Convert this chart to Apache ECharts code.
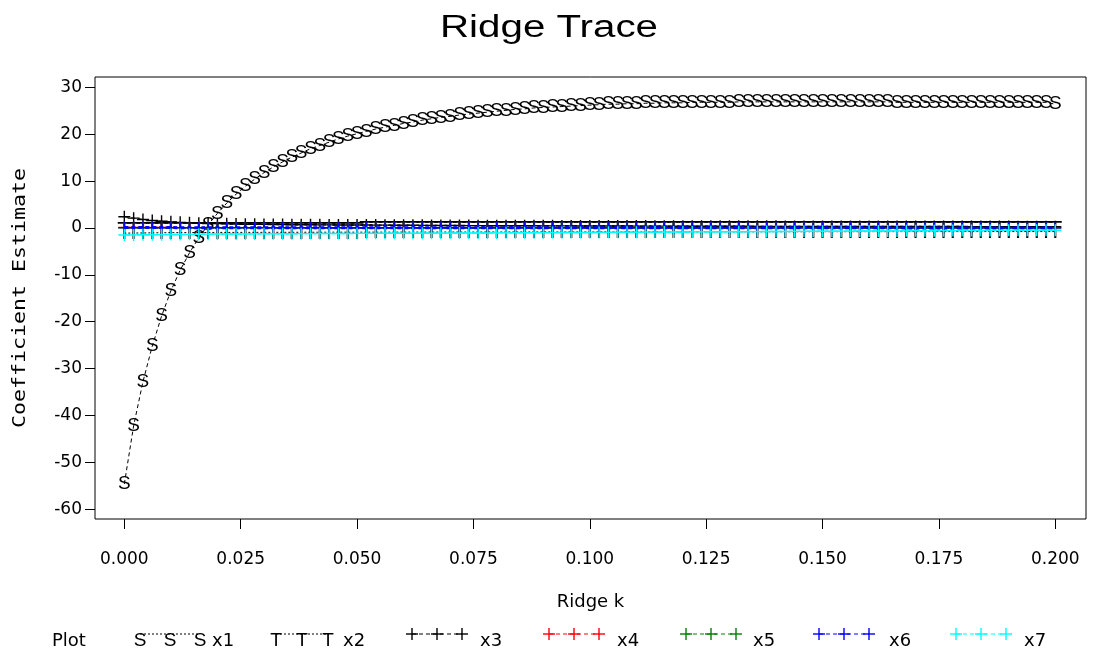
<!DOCTYPE html>
<html><head><meta charset="utf-8">
<script src="https://cdn.jsdelivr.net/npm/echarts@6/dist/echarts.min.js"></script>
<style>html,body{margin:0;padding:0;background:#fff}#c{width:1093px;height:657px}</style>
</head><body><div id="c"></div>
<script>
const ridgeK = [
0.000,0.002,0.004,0.006,0.008,0.010,0.012,0.014,0.016,0.018,
0.020,0.022,0.024,0.026,0.028,0.030,0.032,0.034,0.036,0.038,
0.040,0.042,0.044,0.046,0.048,0.050,0.052,0.054,0.056,0.058,
0.060,0.062,0.064,0.066,0.068,0.070,0.072,0.074,0.076,0.078,
0.080,0.082,0.084,0.086,0.088,0.090,0.092,0.094,0.096,0.098,
0.100,0.102,0.104,0.106,0.108,0.110,0.112,0.114,0.116,0.118,
0.120,0.122,0.124,0.126,0.128,0.130,0.132,0.134,0.136,0.138,
0.140,0.142,0.144,0.146,0.148,0.150,0.152,0.154,0.156,0.158,
0.160,0.162,0.164,0.166,0.168,0.170,0.172,0.174,0.176,0.178,
0.180,0.182,0.184,0.186,0.188,0.190,0.192,0.194,0.196,0.198,
0.200];

const x1 = [
-54.6,-42.2,-32.8,-25.2,-18.8,-13.4,-9.0,-5.3,-2.1,0.7,
3.1,5.3,7.2,8.9,10.4,11.8,13.0,14.1,15.1,16.0,
16.9,17.6,18.3,19.0,19.6,20.1,20.6,21.1,21.5,21.9,
22.3,22.6,23.0,23.3,23.6,23.8,24.1,24.3,24.5,24.7,
24.9,25.1,25.3,25.4,25.6,25.7,25.8,25.9,26.0,26.1,
26.2,26.3,26.4,26.4,26.5,26.5,26.6,26.6,26.7,26.7,
26.7,26.8,26.8,26.8,26.8,26.8,26.9,26.9,26.9,26.9,
26.9,26.9,26.9,26.9,26.9,26.9,26.9,26.9,26.9,26.9,
26.9,26.9,26.9,26.8,26.8,26.8,26.8,26.8,26.8,26.8,
26.8,26.8,26.8,26.8,26.8,26.8,26.8,26.8,26.8,26.8,
26.4];

const x2 = [
-1.10,-1.08,-1.06,-1.04,-1.02,-1.00,-0.99,-0.98,-0.97,-0.96,
-0.95,-0.95,-0.94,-0.94,-0.93,-0.93,-0.92,-0.92,-0.92,-0.91,
-0.91,-0.91,-0.90,-0.90,-0.90,-0.90,-0.89,-0.89,-0.89,-0.89,
-0.88,-0.88,-0.88,-0.88,-0.87,-0.87,-0.87,-0.87,-0.87,-0.86,
-0.86,-0.86,-0.86,-0.86,-0.85,-0.85,-0.85,-0.85,-0.85,-0.84,
-0.84,-0.84,-0.84,-0.84,-0.83,-0.83,-0.83,-0.83,-0.83,-0.82,
-0.82,-0.82,-0.82,-0.82,-0.81,-0.81,-0.81,-0.81,-0.81,-0.80,
-0.80,-0.80,-0.80,-0.80,-0.79,-0.79,-0.79,-0.79,-0.79,-0.78,
-0.78,-0.78,-0.78,-0.78,-0.77,-0.77,-0.77,-0.77,-0.77,-0.76,
-0.76,-0.76,-0.76,-0.76,-0.75,-0.75,-0.75,-0.75,-0.75,-0.74,
-0.74];

const x3 = [
2.40,2.10,1.82,1.60,1.44,1.31,1.20,1.11,1.03,0.97,
0.92,0.88,0.84,0.81,0.78,0.76,0.74,0.72,0.70,0.69,
0.68,0.67,0.66,0.65,0.64,0.63,0.62,0.61,0.60,0.59,
0.58,0.57,0.56,0.55,0.54,0.53,0.52,0.51,0.50,0.49,
0.48,0.47,0.47,0.46,0.46,0.45,0.45,0.44,0.44,0.43,
0.43,0.42,0.42,0.41,0.41,0.40,0.40,0.39,0.39,0.38,
0.38,0.38,0.37,0.37,0.37,0.36,0.36,0.36,0.35,0.35,
0.35,0.34,0.34,0.34,0.33,0.33,0.33,0.33,0.32,0.32,
0.32,0.32,0.31,0.31,0.31,0.31,0.30,0.30,0.30,0.30,
0.30,0.29,0.29,0.29,0.29,0.29,0.28,0.28,0.28,0.28,
0.28];

const x4 = [
0.10,0.10,0.09,0.09,0.09,0.09,0.08,0.08,0.08,0.08,
0.08,0.08,0.07,0.07,0.07,0.07,0.07,0.07,0.07,0.07,
0.07,0.07,0.06,0.06,0.06,0.06,0.06,0.06,0.06,0.06,
0.06,0.06,0.06,0.06,0.05,0.05,0.05,0.05,0.05,0.05,
0.05,0.05,0.05,0.05,0.05,0.05,0.05,0.05,0.04,0.04,
0.04,0.04,0.04,0.04,0.04,0.04,0.04,0.04,0.04,0.04,
0.04,0.04,0.04,0.03,0.03,0.03,0.03,0.03,0.03,0.03,
0.03,0.03,0.03,0.03,0.03,0.03,0.03,0.03,0.03,0.03,
0.03,0.03,0.03,0.03,0.02,0.02,0.02,0.02,0.02,0.02,
0.02,0.02,0.02,0.02,0.02,0.02,0.02,0.02,0.02,0.02,
0.02];

const x5 = [
0.04,0.04,0.04,0.04,0.04,0.04,0.04,0.04,0.04,0.04,
0.04,0.04,0.04,0.04,0.04,0.04,0.04,0.04,0.04,0.04,
0.04,0.04,0.04,0.04,0.04,0.04,0.04,0.04,0.04,0.04,
0.03,0.03,0.03,0.03,0.03,0.03,0.03,0.03,0.03,0.03,
0.03,0.03,0.03,0.03,0.03,0.03,0.03,0.03,0.03,0.03,
0.03,0.03,0.03,0.03,0.03,0.03,0.03,0.03,0.03,0.03,
0.02,0.02,0.02,0.02,0.02,0.02,0.02,0.02,0.02,0.02,
0.02,0.02,0.02,0.02,0.02,0.02,0.02,0.02,0.02,0.02,
0.02,0.02,0.02,0.02,0.02,0.02,0.02,0.02,0.02,0.02,
0.02,0.02,0.02,0.02,0.02,0.02,0.02,0.02,0.02,0.02,
0.02];

const x6 = [
0.08,0.08,0.08,0.08,0.08,0.08,0.07,0.07,0.07,0.07,
0.07,0.07,0.07,0.07,0.07,0.07,0.06,0.06,0.06,0.06,
0.06,0.06,0.06,0.06,0.06,0.06,0.06,0.06,0.05,0.05,
0.05,0.05,0.05,0.05,0.05,0.05,0.05,0.05,0.05,0.05,
0.05,0.05,0.05,0.04,0.04,0.04,0.04,0.04,0.04,0.04,
0.04,0.04,0.04,0.04,0.04,0.04,0.04,0.04,0.04,0.04,
0.04,0.04,0.03,0.03,0.03,0.03,0.03,0.03,0.03,0.03,
0.03,0.03,0.03,0.03,0.03,0.03,0.03,0.03,0.03,0.03,
0.03,0.03,0.03,0.03,0.02,0.02,0.02,0.02,0.02,0.02,
0.02,0.02,0.02,0.02,0.02,0.02,0.02,0.02,0.02,0.02,
0.02];

const x7 = [
-1.50,-1.48,-1.46,-1.44,-1.42,-1.40,-1.38,-1.36,-1.34,-1.32,
-1.30,-1.29,-1.28,-1.27,-1.26,-1.25,-1.24,-1.23,-1.22,-1.21,
-1.20,-1.19,-1.18,-1.18,-1.17,-1.16,-1.15,-1.15,-1.14,-1.13,
-1.12,-1.12,-1.11,-1.10,-1.10,-1.09,-1.08,-1.08,-1.07,-1.06,
-1.05,-1.04,-1.03,-1.02,-1.01,-1.00,-0.99,-0.98,-0.97,-0.96,
-0.95,-0.94,-0.93,-0.92,-0.91,-0.90,-0.89,-0.88,-0.87,-0.86,
-0.85,-0.84,-0.83,-0.82,-0.81,-0.80,-0.79,-0.78,-0.77,-0.76,
-0.75,-0.74,-0.73,-0.72,-0.71,-0.70,-0.69,-0.68,-0.67,-0.66,
-0.65,-0.64,-0.63,-0.62,-0.61,-0.60,-0.59,-0.58,-0.57,-0.56,
-0.55,-0.54,-0.53,-0.52,-0.51,-0.50,-0.50,-0.49,-0.49,-0.48,
-0.48];

const seriesNames = ['x1','x2','x3','x4','x5','x6','x7'];
const seriesColors = ['#000000','#000000','#000000','#ff0000','#008000','#0000ff','#00ffff'];
const seriesGlyphs = ['S','T','+','+','+','+','+'];
const xTicks = [0, 0.025, 0.05, 0.075, 0.1, 0.125, 0.15, 0.175, 0.2];
const xTickLabels = ['0.000','0.025','0.050','0.075','0.100','0.125','0.150','0.175','0.200'];
const yTicks = [-60,-50,-40,-30,-20,-10,0,10,20,30];
const yTickLabels = ['-60','-50','-40','-30','-20','-10','0','10','20','30'];
const titleText = 'Ridge Trace';
const xAxisTitle = 'Ridge k';
const yAxisTitle = 'Coefficient Estimate';
const legendTitle = 'Plot';

const allValues = [x1, x2, x3, x4, x5, x6, x7];
const crossPath = 'path://M6,0L6,12M0,6L12,6';

const series = allValues.map((vals, si) => {
  const c = seriesColors[si];
  const pts = ridgeK.map((k, i) => [k, vals[i]]);
  const base = {
    name: seriesNames[si], type: 'line', data: pts, showAllSymbol: true,
    animation: false, emphasis: { disabled: true }, silent: true,
    lineStyle: { color: c, width: si === 5 ? 3 : 1, type: si === 1 ? [2, 2] : [4, 3] },
    z: 2 + si
  };
  if (seriesGlyphs[si] === '+') {
    base.symbol = crossPath;
    base.symbolSize = 12;
    base.itemStyle = { color: c, borderColor: c, borderWidth: 1.4 };
  } else {
    base.symbol = 'circle';
    base.symbolSize = 1;
    base.itemStyle = { color: 'rgba(0,0,0,0)' };
    base.label = {
      show: true, position: 'inside', formatter: seriesGlyphs[si], color: c,
      fontFamily: 'Liberation Sans', fontSize: si === 0 ? 19 : 23
    };
  }
  return base;
});

// legend built from the series names / colours
const legendIconX = [134, 270, 406, 543, 680, 813, 950];
const legendIconGap = [30, 26, 25, 25, 25, 25, 25];
const legendLabelX = [212, 343, 480, 617, 753, 889, 1024];
const legendY = 641, legendLineY = 634;
const g = [];
g.push({ type: 'text', x: 52, y: legendY, style: { text: legendTitle, fontFamily: 'DejaVu Sans', fontSize: 18, fill: '#000', align: 'left', verticalAlign: 'middle' } });
seriesNames.forEach((nm, si) => {
  const x0 = legendIconX[si], c = seriesColors[si], d = legendIconGap[si];
  const cc = [x0 + 6, x0 + 6 + d, x0 + 6 + 2 * d];
  if (seriesGlyphs[si] === '+') {
    g.push({ type: 'line', shape: { x1: cc[0], y1: legendLineY, x2: cc[2], y2: legendLineY }, style: { stroke: c, lineWidth: 1, lineDash: [4, 3] } });
    cc.forEach(cx => {
      g.push({ type: 'line', shape: { x1: cx - 6, y1: legendLineY, x2: cx + 6, y2: legendLineY }, style: { stroke: c, lineWidth: 1.4 } });
      g.push({ type: 'line', shape: { x1: cx, y1: legendLineY - 6, x2: cx, y2: legendLineY + 6 }, style: { stroke: c, lineWidth: 1.4 } });
    });
  } else {
    g.push({ type: 'line', shape: { x1: cc[0], y1: legendLineY, x2: cc[2], y2: legendLineY }, style: { stroke: c, lineWidth: 1, lineDash: [2, 2] } });
    cc.forEach(cx => {
      g.push({ type: 'text', x: cx, y: legendY, style: { text: seriesGlyphs[si], fontFamily: 'Liberation Sans', fontSize: 19, fill: c, align: 'center', verticalAlign: 'middle' } });
    });
  }
  g.push({ type: 'text', x: legendLabelX[si], y: legendY, style: { text: nm, fontFamily: 'DejaVu Sans', fontSize: 18, fill: '#000', align: 'left', verticalAlign: 'middle' } });
});
// title and y axis title (stretched like the original)
g.push({ type: 'text', x: 549, y: 28, scaleX: 1.3, style: { text: titleText, fontFamily: 'Liberation Sans', fontSize: 31, fill: '#000', align: 'center', verticalAlign: 'middle' } });
g.push({ type: 'text', x: 21, y: 298, rotation: Math.PI / 2, scaleX: 1.27, style: { text: yAxisTitle, fontFamily: 'DejaVu Sans Mono', fontSize: 17, fill: '#000', align: 'center', verticalAlign: 'middle' } });

const chart = echarts.init(document.getElementById('c'), null, { renderer: 'canvas' });
chart.setOption({
  animation: false,
  backgroundColor: '#ffffff',
  grid: { left: 95, right: 7, top: 77, bottom: 138, show: true, borderColor: '#000', borderWidth: 1, backgroundColor: 'transparent' },
  xAxis: {
    type: 'value', min: -0.0063, max: 0.2066,
    name: xAxisTitle, nameLocation: 'middle', nameGap: 74,
    nameTextStyle: { fontFamily: 'DejaVu Sans', fontSize: 18, color: '#000' },
    axisLine: { show: false, onZero: false },
    splitLine: { show: false },
    axisTick: { show: true, inside: false, length: 10, lineStyle: { color: '#000', width: 1 }, customValues: xTicks },
    axisLabel: { customValues: xTicks, margin: 32, fontFamily: 'DejaVu Sans', fontSize: 17, color: '#000',
      formatter: v => { const i = xTicks.findIndex(t => Math.abs(t - v) < 1e-9); return i >= 0 ? xTickLabels[i] : ''; } }
  },
  yAxis: {
    type: 'value', min: -62.07, max: 32.2,
    axisLine: { show: false, onZero: false },
    splitLine: { show: false },
    axisTick: { show: true, inside: false, length: 10, lineStyle: { color: '#000', width: 1 }, customValues: yTicks },
    axisLabel: { customValues: yTicks, margin: 13, fontFamily: 'DejaVu Sans', fontSize: 17, color: '#000',
      formatter: v => { const i = yTicks.findIndex(t => Math.abs(t - v) < 1e-9); return i >= 0 ? yTickLabels[i] : ''; } }
  },
  graphic: g,
  series: series
});
</script>
</body></html>
